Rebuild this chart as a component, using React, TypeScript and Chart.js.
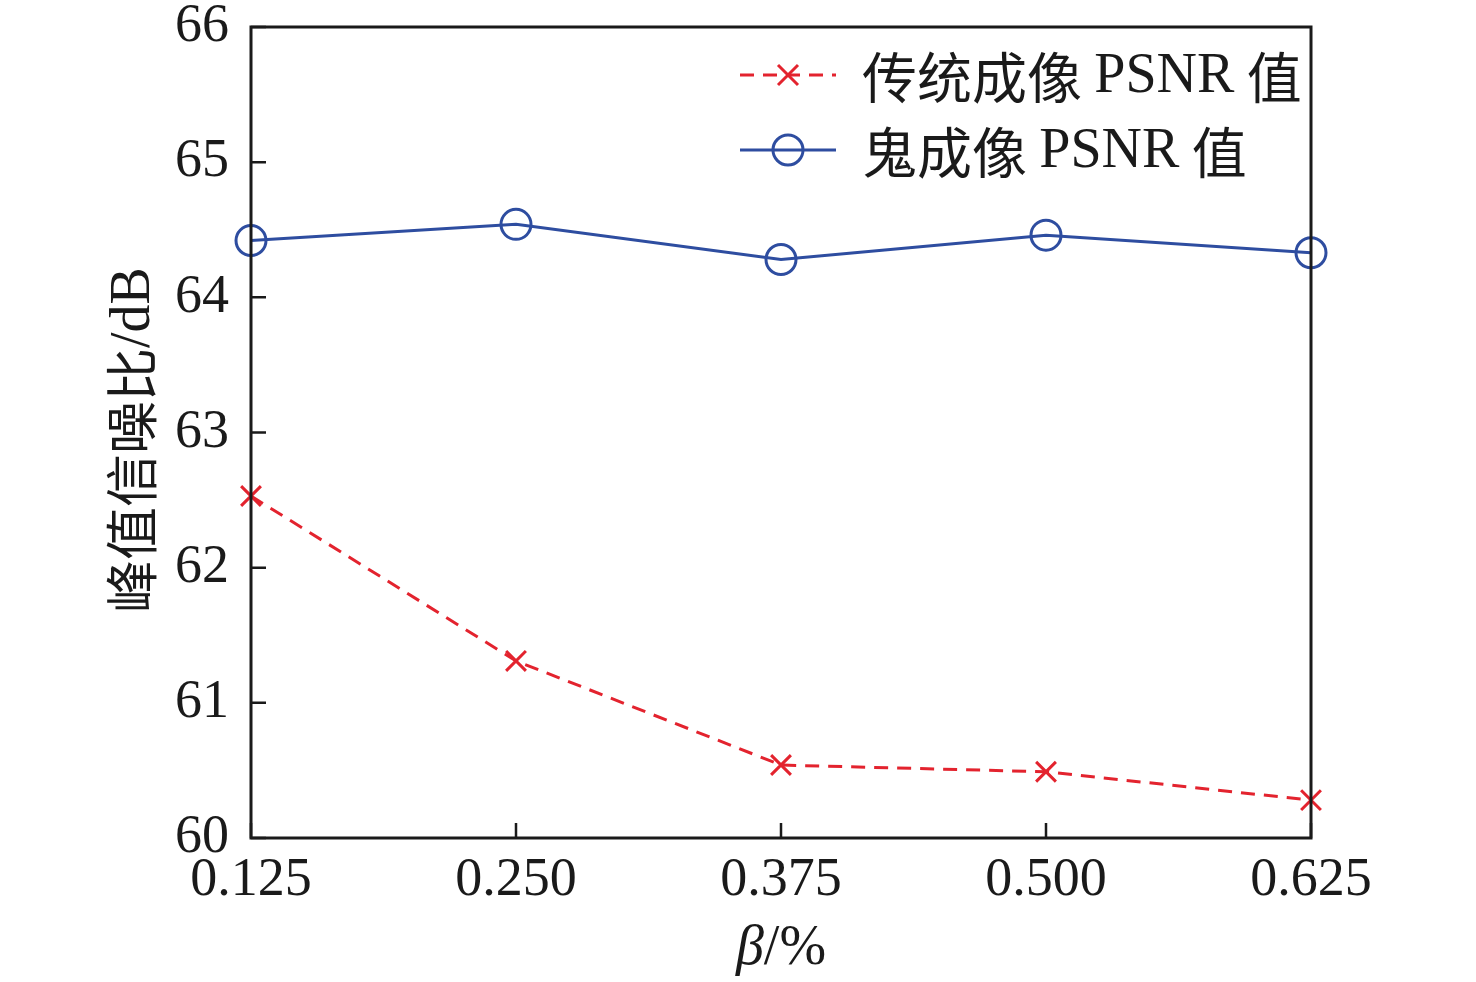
import { useEffect, useRef } from "react";
import { Chart, registerables } from "chart.js";

Chart.register(...registerables);

const betaLabels = ["0.125", "0.250", "0.375", "0.500", "0.625"];
const traditionalPsnr = [62.53, 61.31, 60.54, 60.49, 60.28];
const ghostPsnr = [64.42, 64.54, 64.28, 64.46, 64.33];
const yTicks = [60, 61, 62, 63, 64, 65, 66];

const RED = "#e3232e";
const BLUE = "#2e4da0";
const AXIS = "#1a1a1a";
const SERIF = "'Liberation Serif', 'Times New Roman', serif";
const CJK = "'Noto Sans CJK SC', sans-serif";
const DASH = [14, 9];

const framePlugin = {
  id: "frame",
  afterDraw(chart: Chart) {
    const { ctx, chartArea } = chart;
    const { left, right, top, bottom } = chartArea;
    const x = chart.scales.x;
    const y = chart.scales.y;
    ctx.save();
    ctx.strokeStyle = AXIS;
    ctx.lineWidth = 3;
    ctx.strokeRect(left, top, right - left, bottom - top);

    // inward ticks
    ctx.lineWidth = 2.5;
    ctx.beginPath();
    x.ticks.forEach((_, i) => {
      const px = x.getPixelForTick(i);
      ctx.moveTo(px, bottom);
      ctx.lineTo(px, bottom - 15);
    });
    y.ticks.forEach((_, i) => {
      const py = y.getPixelForTick(i);
      ctx.moveTo(left, py);
      ctx.lineTo(left + 15, py);
    });
    ctx.stroke();

    // legend
    const rows = [
      { label: chart.data.datasets[0].label || "", color: RED, dash: DASH, marker: "cross", yy: 75 },
      { label: chart.data.datasets[1].label || "", color: BLUE, dash: [], marker: "circle", yy: 150 },
    ];
    rows.forEach((r) => {
      ctx.strokeStyle = r.color;
      ctx.lineWidth = 3;
      ctx.setLineDash(r.dash);
      ctx.beginPath();
      ctx.moveTo(740, r.yy);
      ctx.lineTo(836, r.yy);
      ctx.stroke();
      ctx.setLineDash([]);
      ctx.beginPath();
      if (r.marker === "cross") {
        ctx.moveTo(778, r.yy - 10);
        ctx.lineTo(798, r.yy + 10);
        ctx.moveTo(798, r.yy - 10);
        ctx.lineTo(778, r.yy + 10);
      } else {
        ctx.arc(788, r.yy, 15, 0, Math.PI * 2);
      }
      ctx.stroke();

      ctx.fillStyle = "#1a1a1a";
      ctx.textBaseline = "middle";
      ctx.textAlign = "left";
      let tx = 862;
      const parts = r.label.split(/(PSNR)/);
      parts.forEach((p) => {
        ctx.font = p === "PSNR" ? `56px ${SERIF}` : `55px ${CJK}`;
        ctx.fillText(p, tx, r.yy + 2);
        tx += ctx.measureText(p).width;
      });
    });

    // y title
    ctx.save();
    ctx.translate(132, 440);
    ctx.rotate(-Math.PI / 2);
    ctx.textAlign = "left";
    ctx.textBaseline = "middle";
    const yTitleA = "峰值信噪比";
    const yTitleB = "/dB";
    ctx.font = `53px ${CJK}`;
    const wa = ctx.measureText(yTitleA).width;
    ctx.font = `56px ${SERIF}`;
    const wb = ctx.measureText(yTitleB).width;
    let sx = -(wa + wb) / 2;
    ctx.font = `53px ${CJK}`;
    ctx.fillText(yTitleA, sx, 0);
    sx += wa;
    ctx.font = `56px ${SERIF}`;
    ctx.fillText(yTitleB, sx, 2);
    ctx.restore();

    // x title
    ctx.textBaseline = "alphabetic";
    ctx.font = `italic 56px ${SERIF}`;
    const wBeta = ctx.measureText("β").width;
    ctx.font = `56px ${SERIF}`;
    const wRest = ctx.measureText("/%").width;
    let bx = (left + right) / 2 - (wBeta + wRest) / 2;
    ctx.font = `italic 56px ${SERIF}`;
    ctx.fillText("β", bx, 964);
    bx += wBeta;
    ctx.font = `56px ${SERIF}`;
    ctx.fillText("/%", bx, 964);
    ctx.restore();
  },
};

export default function App() {
  const canvasRef = useRef<HTMLCanvasElement | null>(null);
  const chartRef = useRef<Chart | null>(null);

  useEffect(() => {
    const canvas = canvasRef.current;
    if (!canvas) {
      return;
    }
    chartRef.current?.destroy();

    chartRef.current = new Chart(canvas, {
      type: "line",
      data: {
        labels: betaLabels,
        datasets: [
          {
            label: "传统成像 PSNR 值",
            data: traditionalPsnr,
            borderColor: RED,
            borderWidth: 3,
            borderDash: DASH,
            pointStyle: "crossRot",
            pointRadius: 14,
            pointBorderWidth: 3,
            pointBorderColor: RED,
            pointBackgroundColor: "transparent",
            tension: 0,
          },
          {
            label: "鬼成像 PSNR 值",
            data: ghostPsnr,
            borderColor: BLUE,
            borderWidth: 3,
            pointStyle: "circle",
            pointRadius: 15,
            pointBorderWidth: 3,
            pointBorderColor: BLUE,
            pointBackgroundColor: "transparent",
            tension: 0,
          },
        ],
      },
      options: {
        responsive: true,
        maintainAspectRatio: false,
        animation: false,
        layout: { padding: { top: 27, right: 165, left: 0, bottom: 0 } },
        plugins: {
          legend: { display: false },
          tooltip: { enabled: false },
        },
        scales: {
          x: {
            type: "category",
            offset: false,
            grid: { display: false, drawTicks: false },
            border: { display: false },
            ticks: {
              color: "#1a1a1a",
              padding: 10,
              maxRotation: 0,
              font: { family: SERIF, size: 54 },
            },
            afterFit: (scale) => {
              scale.height = 144;
              scale.paddingLeft = 0;
              scale.paddingRight = 0;
            },
          },
          y: {
            min: 60,
            max: 66,
            afterBuildTicks: (scale) => {
              scale.ticks = yTicks.map((v) => ({ value: v }));
            },
            grid: { display: false, drawTicks: false },
            border: { display: false },
            ticks: {
              color: "#1a1a1a",
              padding: 22,
              font: { family: SERIF, size: 54 },
            },
            afterFit: (scale) => {
              scale.width = 251;
              scale.paddingTop = 0;
              scale.paddingBottom = 0;
            },
          },
        },
      },
      plugins: [framePlugin],
    });

    return () => {
      chartRef.current?.destroy();
    };
  }, []);

  return (
    <div
      style={{
        position: "fixed",
        left: 0,
        top: 0,
        width: 1476,
        height: 982,
        background: "#ffffff",
      }}
    >
      <canvas ref={canvasRef} />
    </div>
  );
}
